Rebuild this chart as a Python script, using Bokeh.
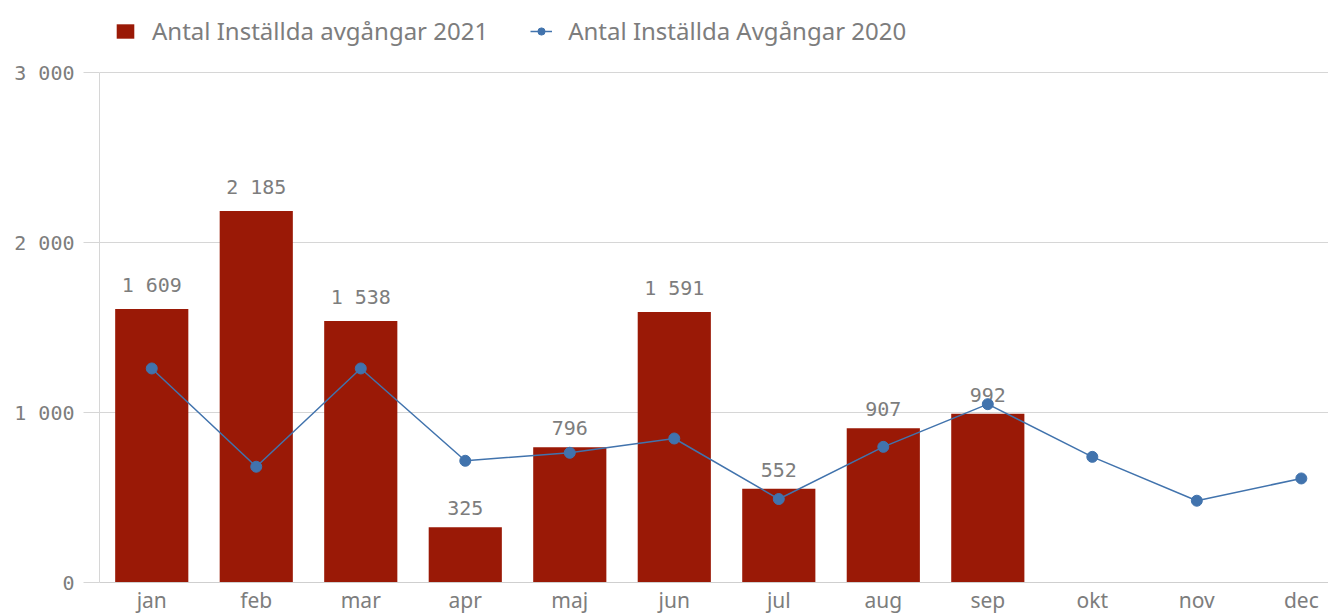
from bokeh.plotting import figure
from bokeh.models import Range1d, FixedTicker, Legend, LegendItem, ColumnDataSource
from bokeh.embed import file_html
from bokeh.resources import INLINE
from bokeh.core.properties import value

months = ["jan", "feb", "mar", "apr", "maj", "jun", "jul", "aug", "sep", "okt", "nov", "dec"]
cancelled_2021 = [1609, 2185, 1538, 325, 796, 1591, 552, 907, 992]
cancelled_2020 = [1259, 681, 1259, 716, 763, 847, 491, 798, 1049, 739, 481, 612]
y_ticks = [0, 1000, 2000, 3000]
y_tick_labels = ["0", "1 000", "2 000", "3 000"]
label_2021 = "Antal Inställda avgångar 2021"
label_2020 = "Antal Inställda Avgångar 2020"

BAR = "#9a1906"
LINE = "#4173ad"
TXT = "#7d7d7d"
GRID = "#d6d6d6"
NUMFONT = "DejaVu Sans Mono"
TXTFONT = "Noto Sans"

FRAME_W = 1229
FRAME_H = 582          # frame reaches to the top so the legend sits inside it
AXIS_PX = 510          # pixel height of the 0..3000 value band
Y_MAX = 3000
Y_TOP = Y_MAX * FRAME_H / AXIS_PX


def fmt(v):
    return f"{v:,}".replace(",", " ")


src21 = ColumnDataSource(dict(
    x=list(range(len(cancelled_2021))),
    v=cancelled_2021,
    lbl=[fmt(v) for v in cancelled_2021],
))
src20 = ColumnDataSource(dict(
    x=list(range(len(cancelled_2020))),
    v=cancelled_2020,
))

p = figure(frame_width=FRAME_W, frame_height=FRAME_H, output_backend="svg", toolbar_location=None,
           x_range=Range1d(-0.5, 11.26), y_range=Range1d(0, Y_TOP),
           min_border_left=99, min_border_top=0, min_border_right=0, min_border_bottom=10)
p.outline_line_color = None
p.background_fill_color = "white"
p.border_fill_color = "white"

p.xgrid.grid_line_color = None
p.ygrid.grid_line_color = GRID
p.ygrid.ticker = FixedTicker(ticks=y_ticks)

bars = p.vbar(x="x", top="v", width=0.7, source=src21, fill_color=BAR, line_color=None)
p.text(x="x", y="v", text="lbl", source=src21, y_offset=-12, text_align="center",
       text_baseline="bottom", text_font=value(NUMFONT), text_font_size="20px", text_color=TXT)
line_r = p.line(x="x", y="v", source=src20, line_color=LINE, line_width=1.5)
pts = p.scatter(x="x", y="v", source=src20, size=11, fill_color=LINE, line_color=LINE)

yax = p.yaxis[0]
yax.bounds = (0, Y_MAX)
yax.ticker = FixedTicker(ticks=y_ticks)
yax.major_label_overrides = dict(zip(y_ticks, y_tick_labels))
yax.minor_tick_line_color = None
yax.major_tick_in = 0
yax.major_tick_out = 16
yax.major_tick_line_color = GRID
yax.axis_line_color = GRID
yax.major_label_standoff = 9
yax.major_label_text_font = NUMFONT
yax.major_label_text_font_size = "20px"
yax.major_label_text_color = TXT

xax = p.xaxis[0]
xax.ticker = FixedTicker(ticks=list(range(len(months))))
xax.major_label_overrides = {i: m for i, m in enumerate(months)}
xax.minor_tick_line_color = None
xax.major_tick_line_color = None
xax.major_tick_in = 0
xax.major_tick_out = 0
xax.axis_line_color = "#cfcfcf"
xax.major_label_standoff = 3
xax.major_label_text_font = TXTFONT
xax.major_label_text_font_size = "21px"
xax.major_label_text_color = TXT

legend = Legend(items=[LegendItem(label=label_2021, renderers=[bars]),
                       LegendItem(label=label_2020, renderers=[line_r, pts])],
                orientation="horizontal", location=(15, FRAME_H - 47),
                label_text_font=TXTFONT, label_text_font_size="24px", label_text_color=TXT,
                glyph_width=22, glyph_height=18, label_standoff=16, spacing=42,
                border_line_color=None, background_fill_alpha=0, padding=7, margin=0)
p.add_layout(legend, "center")

open("out.html", "w").write(file_html(p, INLINE))
